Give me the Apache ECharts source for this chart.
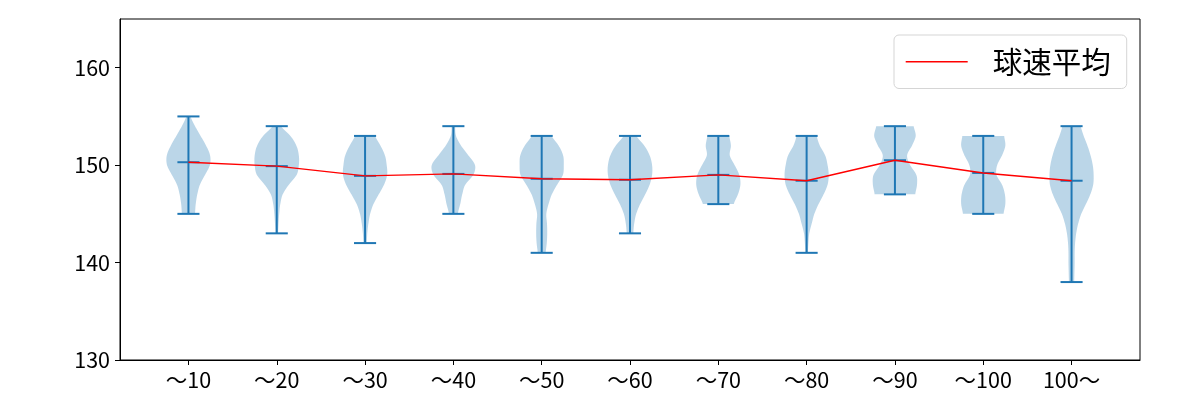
<!DOCTYPE html>
<html>
<head>
<meta charset="utf-8">
<script src="https://cdn.jsdelivr.net/npm/echarts@6/dist/echarts.min.js"></script>
<style>html,body{margin:0;padding:0;background:#fff}#c{width:1200px;height:400px}</style>
</head>
<body>
<div id="c"></div>
<script>
const categories = ['～10','～20','～30','～40','～50','～60','～70','～80','～90','～100','100～'];
const positions = [1,2,3,4,5,6,7,8,9,10,11];
const speedMin = [145,143,142,145,141,143,146,141,147,145,138];
const speedMax = [155,154,153,154,153,153,153,153,154,153,154];
const speedMean = [150.3,149.9,148.9,149.1,148.6,148.5,149.0,148.4,150.5,149.2,148.4];
const yTicks = [130,140,150,160];
// relative violin widths, one value per km/h from min (first) to max (last)
const width10  = [0.3,0.33,0.4,0.52,0.75,0.97,0.98,0.8,0.55,0.3,0.1];
const width20  = [0.06,0.08,0.11,0.16,0.27,0.55,0.9,1.0,1.0,0.89,0.62,0.2];
const width30  = [0.08,0.1,0.15,0.23,0.38,0.62,0.86,1.0,0.98,0.9,0.7,0.46];
const width40  = [0.2,0.31,0.4,0.54,0.9,0.98,0.68,0.35,0.12,0.08];
const width50  = [0.18,0.23,0.25,0.24,0.21,0.31,0.46,0.7,0.96,1.0,0.97,0.77,0.46];
const width60  = [0.15,0.19,0.28,0.46,0.69,0.89,1.0,1.0,0.89,0.65,0.3];
const width70  = [0.7,0.89,1.0,0.95,0.74,0.52,0.57,0.5];
const width80  = [0.06,0.08,0.12,0.23,0.35,0.54,0.77,0.95,1.0,0.95,0.84,0.6,0.46];
const width90  = [0.92,1.0,0.97,0.69,0.55,0.77,0.94,0.85];
const width100 = [0.92,1.0,0.98,0.85,0.6,0.63,0.85,1.0,0.95];
const width100p= [0.12,0.13,0.14,0.14,0.16,0.21,0.3,0.44,0.65,0.85,0.98,1.0,0.96,0.86,0.72,0.55,0.42];
const violinWidths = [width10,width20,width30,width40,width50,width60,width70,width80,width90,width100,width100p];

const C0 = '#1f77b4';
const FONT = 'Noto Sans CJK JP';

function smoothSide(vals, ys) {
  // Catmull-Rom through (ys[k], vals[k]) for drawing
  const out = [];
  const n = vals.length;
  for (let k = 0; k < n - 1; k++) {
    const w0 = vals[Math.max(0, k - 1)], w1 = vals[k], w2 = vals[k + 1], w3 = vals[Math.min(n - 1, k + 2)];
    const steps = 8;
    for (let s = 0; s < steps; s++) {
      const t = s / steps, t2 = t * t, t3 = t2 * t;
      const w = 0.5 * ((2 * w1) + (-w0 + w2) * t + (2 * w0 - 5 * w1 + 4 * w2 - w3) * t2 + (-w0 + 3 * w1 - 3 * w2 + w3) * t3);
      out.push([ys[k] + (ys[k + 1] - ys[k]) * t, Math.max(0.02, w)]);
    }
  }
  out.push([ys[n - 1], vals[n - 1]]);
  return out;
}

function renderViolin(params, api) {
  const i = params.dataIndex;
  const x = api.value(0), lo = api.value(1), hi = api.value(2), mean = api.value(3);
  const ws = violinWidths[i];
  const ys = ws.map((_, k) => lo + k);
  const pts = smoothSide(ws, ys);
  const half = 0.25;
  const left = pts.map(p => api.coord([x - half * p[1], p[0]]));
  const right = pts.slice().reverse().map(p => api.coord([x + half * p[1], p[0]]));
  const poly = left.concat(right);
  const cap = 0.125;
  const lineStyle = { stroke: C0, lineWidth: 2 };
  const pTop = api.coord([x, hi]), pBot = api.coord([x, lo]);
  const mk = (v) => {
    const a = api.coord([x - cap, v]), b = api.coord([x + cap, v]);
    return { type: 'line', shape: { x1: a[0], y1: a[1], x2: b[0], y2: b[1] }, style: lineStyle };
  };
  return {
    type: 'group',
    children: [
      { type: 'polygon', shape: { points: poly }, style: { fill: 'rgba(31,119,180,0.3)', stroke: null } },
      { type: 'line', shape: { x1: pTop[0], y1: pTop[1], x2: pBot[0], y2: pBot[1] }, style: lineStyle },
      mk(hi), mk(lo), mk(mean)
    ]
  };
}

const chart = echarts.init(document.getElementById('c'), null, { renderer: 'canvas' });
chart.setOption({
  animation: false,
  backgroundColor: '#fff',
  textStyle: { fontFamily: FONT },
  grid: { left: 120, right: 60, top: 19, bottom: 40, show: true, borderColor: '#000', borderWidth: 1, backgroundColor: 'transparent' },
  xAxis: {
    type: 'value', min: 0.225, max: 11.775,
    axisLine: { show: true, onZero: false, lineStyle: { color: '#000', width: 1 } },
    axisTick: { show: true, length: 5, lineStyle: { color: '#000' }, customValues: positions },
    axisLabel: { color: '#000', fontSize: 21.5, fontFamily: FONT, margin: 9, customValues: positions,
      formatter: v => categories[Math.round(v) - 1] || '' },
    splitLine: { show: false }
  },
  yAxis: {
    type: 'value', min: 130, max: 165, interval: 10,
    axisLine: { show: true, lineStyle: { color: '#000', width: 1 } },
    axisTick: { show: true, length: 5, lineStyle: { color: '#000' }, customValues: yTicks },
    axisLabel: { color: '#000', fontSize: 21.5, fontFamily: FONT, margin: 10, customValues: yTicks },
    splitLine: { show: false }
  },
  legend: {
    data: ['球速平均'],
    left: 894, top: 35,
    orient: 'vertical',
    padding: [12, 16, 12, 11],
    itemWidth: 62, itemHeight: 14,
    itemStyle: { opacity: 0 },
    lineStyle: { color: 'red', width: 1.4 },
    borderColor: '#d5d5d5', borderWidth: 1, borderRadius: 5,
    backgroundColor: 'rgba(255,255,255,0.8)',
    textStyle: { fontSize: 29.5, color: '#000', fontFamily: FONT, padding: [0, 0, 0, 20] }
  },
  series: [
    {
      type: 'custom', name: 'violin',
      renderItem: renderViolin,
      encode: { x: 0, y: [1, 2] },
      data: positions.map((p, i) => [p, speedMin[i], speedMax[i], speedMean[i]]),
      z: 2, silent: true
    },
    {
      type: 'line', name: '球速平均',
      data: positions.map((p, i) => [p, speedMean[i]]),
      symbol: 'none', color: 'red',
      lineStyle: { color: 'red', width: 1.4 },
      z: 5, silent: true
    }
  ]
});
</script>
</body>
</html>
